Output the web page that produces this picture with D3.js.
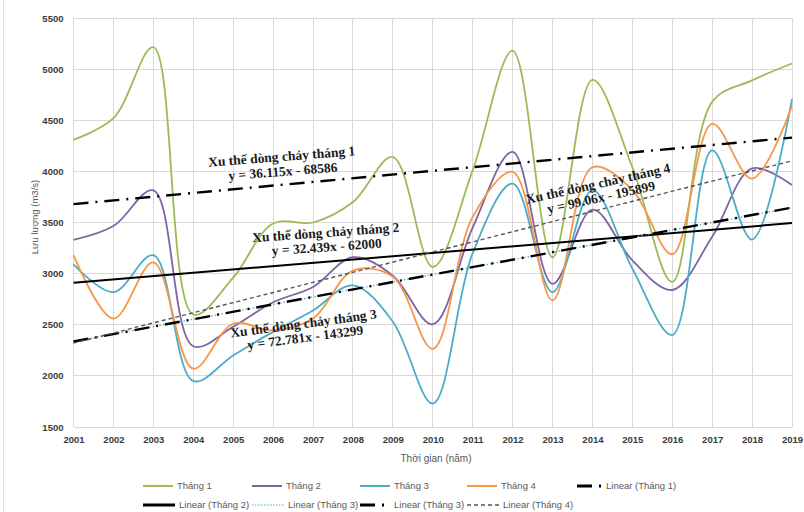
<!DOCTYPE html>
<html>
<head>
<meta charset="utf-8">
<script src="https://cdn.jsdelivr.net/npm/d3@7"></script>
<style>
  body { margin: 0; background: #fff; }
  svg { display: block; }
</style>
</head>
<body>
<svg id="chart" width="804" height="512"></svg>
<script>
// Monthly discharge (m3/s), 2001–2019
const years  = [2001, 2002, 2003, 2004, 2005, 2006, 2007, 2008, 2009, 2010,
                2011, 2012, 2013, 2014, 2015, 2016, 2017, 2018, 2019];
const thang1 = [4310, 4520, 5215, 2600, 2960, 3490, 3500, 3700, 4140, 3065,
                4010, 5180, 3160, 4895, 4040, 2920, 4680, 4890, 5055];
const thang2 = [3330, 3465, 3815, 2290, 2480, 2720, 2870, 3160, 2980, 2505,
                3450, 4190, 2900, 3625, 3130, 2840, 3360, 4030, 3866];
const thang3 = [3090, 2820, 3180, 1950, 2200, 2430, 2640, 2885, 2530, 1730,
                3200, 3880, 2820, 3815, 3050, 2400, 4205, 3333, 4706];
const thang4 = [3180, 2560, 3110, 2070, 2510, 2445, 2560, 3030, 2970, 2265,
                3555, 3995, 2740, 4040, 3820, 3190, 4465, 3930, 4640];

// Linear trends y = a·x + b for each month
const trendSlopes     = [36.115, 32.439, 72.781, 99.06];
const trendIntercepts = [-68586, -62000, -143299, -195899];
const trendTitles     = ["Xu thế dòng chảy tháng 1", "Xu thế dòng chảy tháng 2",
                         "Xu thế dòng chảy tháng 3", "Xu thế dòng chảy tháng 4"];

const yTicks = [1500, 2000, 2500, 3000, 3500, 4000, 4500, 5000, 5500];
const seriesNames  = ["Tháng 1", "Tháng 2", "Tháng 3", "Tháng 4"];
const seriesColors = ["#9bbb59", "#8064a2", "#4bacc6", "#f79646"];

const svg = d3.select("#chart");
const x = d3.scaleLinear().domain([2001, 2019]).range([73.5, 792]);
const y = d3.scaleLinear().domain([1500, 5500]).range([427, 18]);

// outer frame edge
svg.append("line").attr("x1", 3.5).attr("x2", 3.5).attr("y1", 0).attr("y2", 512)
  .attr("stroke", "#e3e3e3").attr("stroke-width", 1);

// gridlines
const grid = svg.append("g").attr("stroke", "#d9d9d9").attr("stroke-width", 1)
  .attr("shape-rendering", "crispEdges");
grid.selectAll("line.h").data(yTicks).join("line").attr("class", "h")
  .attr("x1", x(2001)).attr("x2", x(2019)).attr("y1", d => y(d)).attr("y2", d => y(d));
grid.selectAll("line.v").data(years).join("line").attr("class", "v")
  .attr("x1", d => x(d)).attr("x2", d => x(d)).attr("y1", y(5500)).attr("y2", y(1500));

// axes
const axisFont = "'Liberation Sans', Arial, sans-serif";
const yAxis = svg.append("g").attr("transform", `translate(${x(2001)},0)`)
  .call(d3.axisLeft(y).tickValues(yTicks).tickSize(0).tickPadding(10).tickFormat(d3.format("d")));
const xAxis = svg.append("g").attr("transform", `translate(0,${y(1500)})`)
  .call(d3.axisBottom(x).tickValues(years).tickSize(0).tickPadding(9).tickFormat(d3.format("d")));
[yAxis, xAxis].forEach(a => {
  a.select(".domain").remove();
  a.selectAll("text").attr("font-family", axisFont).attr("font-size", 9.5)
    .attr("font-weight", "bold").attr("fill", "#3a3a3a");
});

svg.append("text").attr("transform", "translate(38,217) rotate(-90)")
  .attr("text-anchor", "middle").attr("font-family", axisFont).attr("font-size", 9.5)
  .attr("fill", "#595959").text("Lưu lượng (m3/s)");
svg.append("text").attr("x", 436).attr("y", 462)
  .attr("text-anchor", "middle").attr("font-family", axisFont).attr("font-size", 10)
  .attr("fill", "#595959").text("Thời gian (năm)");

// smoothed monthly series
const line = d3.line().x((d, i) => x(years[i])).y(d => y(d)).curve(d3.curveCatmullRom.alpha(0.5));
const allSeries = [thang1, thang2, thang3, thang4];
svg.append("g").selectAll("path").data(allSeries).join("path")
  .attr("d", d => line(d)).attr("fill", "none")
  .attr("stroke", (d, i) => seriesColors[i]).attr("stroke-width", 1.8);

// trend line styles
const trendStyles = [
  { idx: 0, stroke: "#000", width: 2.4, dash: "15,7,2,7" },
  { idx: 1, stroke: "#000", width: 2,   dash: null },
  { idx: 2, stroke: "#4bacc6", width: 1.2, dash: "1.5,2" },
  { idx: 2, stroke: "#000", width: 2.4, dash: "15,7,2,7" },
  { idx: 3, stroke: "#555", width: 1.4, dash: "4,3" }
];
const trendValue = (k, yr) => trendSlopes[k] * yr + trendIntercepts[k];
svg.append("g").selectAll("line").data(trendStyles).join("line")
  .attr("x1", x(2001)).attr("x2", x(2019))
  .attr("y1", s => y(trendValue(s.idx, 2001)))
  .attr("y2", s => y(trendValue(s.idx, 2019)))
  .attr("stroke", s => s.stroke).attr("stroke-width", s => s.width)
  .attr("stroke-dasharray", s => s.dash);

// trend annotations
const notes = [
  { k: 0, cx: 282, cy: 161, rot: -4.5, gap: 15 },
  { k: 1, cx: 326, cy: 237, rot: -4,   gap: 14.5 },
  { k: 2, cx: 304, cy: 328, rot: -7.5, gap: 14 },
  { k: 3, cx: 599, cy: 188, rot: -12.5, gap: 14 }
];
const eqText = k => `y = ${trendSlopes[k]}x - ${-trendIntercepts[k]}`;
const noteG = svg.append("g").attr("font-family", "'Liberation Serif', 'Times New Roman', serif")
  .attr("font-weight", "bold").attr("font-size", 13.5).attr("fill", "#1a1a1a")
  .attr("text-anchor", "middle");
notes.forEach(n => {
  const g = noteG.append("g").attr("transform", `translate(${n.cx},${n.cy}) rotate(${n.rot})`);
  g.append("text").attr("x", 0).attr("y", 0).text(trendTitles[n.k]);
  g.append("text").attr("x", 0).attr("y", n.gap).text(eqText(n.k));
});

// legend
const legendItems = [
  { label: "Tháng 1", col: 0, row: 0, stroke: seriesColors[0], width: 2, dash: null, len: 30 },
  { label: "Tháng 2", col: 1, row: 0, stroke: seriesColors[1], width: 2, dash: null, len: 30 },
  { label: "Tháng 3", col: 2, row: 0, stroke: seriesColors[2], width: 2, dash: null, len: 30 },
  { label: "Tháng 4", col: 3, row: 0, stroke: seriesColors[3], width: 2, dash: null, len: 30 },
  { label: "Linear (Tháng 1)", col: 4, row: 0, stroke: "#000", width: 3, dash: "15,7,2,7", len: 25 },
  { label: "Linear (Tháng 2)", col: 0, row: 1, stroke: "#000", width: 3, dash: null, len: 32 },
  { label: "Linear (Tháng 3)", col: 1, row: 1, stroke: "#4bacc6", width: 1, dash: "1.5,1.5", len: 32 },
  { label: "Linear (Tháng 3)", col: 2, row: 1, stroke: "#000", width: 3, dash: "15,7,2,7", len: 30 },
  { label: "Linear (Tháng 4)", col: 3, row: 1, stroke: "#555", width: 1.4, dash: "4,3", len: 32 }
];
const colX = [143, 252, 360, 467, 577];
const rowY = [486, 505];
const lg = svg.append("g");
legendItems.forEach(it => {
  const x0 = colX[it.col], y0 = rowY[it.row];
  lg.append("line").attr("x1", x0).attr("x2", x0 + it.len).attr("y1", y0).attr("y2", y0)
    .attr("stroke", it.stroke).attr("stroke-width", it.width).attr("stroke-dasharray", it.dash);
  lg.append("text").attr("x", x0 + it.len + 4).attr("y", y0).attr("dy", "0.35em")
    .attr("font-family", axisFont).attr("font-size", 9.5).attr("fill", "#595959").text(it.label);
});
</script>
</body>
</html>
